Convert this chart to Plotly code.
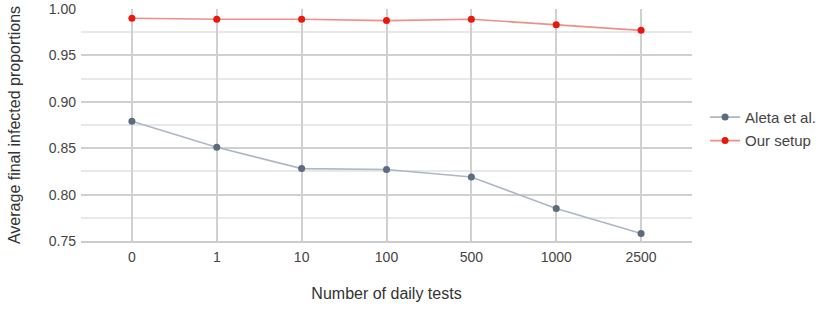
import plotly.graph_objects as go

categories = ["0", "1", "10", "100", "500", "1000", "2500"]
aleta = [0.879, 0.851, 0.828, 0.827, 0.819, 0.785, 0.758]
our_setup = [0.990, 0.989, 0.989, 0.9875, 0.989, 0.983, 0.977]
y_ticks = [0.75, 0.80, 0.85, 0.90, 0.95, 1.00]
y_tick_labels = ["0.75", "0.80", "0.85", "0.90", "0.95", "1.00"]

font_family = "Liberation Sans, Arial, sans-serif"

fig = go.Figure()
fig.add_trace(go.Scatter(
    x=categories, y=aleta, name="Aleta et al.", mode="lines+markers",
    legendgroup="a",
    line=dict(color="#adb7c3", width=1.6),
    marker=dict(color="#5c6b7e", size=7),
))
fig.add_trace(go.Scatter(
    x=categories, y=our_setup, name="Our setup", mode="lines+markers",
    legendgroup="b",
    line=dict(color="#f28e86", width=1.6),
    marker=dict(color="#e8180e", size=7),
))

fig.update_layout(
    width=830, height=312,
    margin=dict(l=81, r=138, t=9, b=71),
    plot_bgcolor="white", paper_bgcolor="white",
    font=dict(family=font_family, size=14, color="#444"),
    showlegend=True,
    legend=dict(xref="container", yref="container", x=0.8495, y=0.587,
                xanchor="left", yanchor="middle",
                itemwidth=30,
                tracegroupgap=1, font=dict(size=15, color="#444")),
)
fig.update_xaxes(
    type="category", range=[-0.6, 6.6], automargin=False,
    showgrid=True, gridcolor="#d0d0d0", gridwidth=1.5,
    showline=True, linecolor="#cccccc", linewidth=2,
    zeroline=False, ticks="", ticklabelstandoff=2,
    tickfont=dict(size=14, color="#444"),
    title=dict(text="Number of daily tests", standoff=24,
               font=dict(size=16, color="#333")),
)
fig.update_yaxes(
    range=[0.75, 1.0], automargin=False,
    tickvals=y_ticks, ticktext=y_tick_labels,
    showgrid=True, gridcolor="#d0d0d0", gridwidth=1.5,
    minor=dict(dtick=0.025, tick0=0.75, showgrid=True, gridcolor="#e8e8e8", gridwidth=1.5),
    zeroline=False, ticks="", ticklabelstandoff=4,
    tickfont=dict(size=14, color="#444"),
    title=dict(text="Average final infected proportions", standoff=24,
               font=dict(size=16, color="#333")),
)

fig.write_html("out.html", config={"displayModeBar": False},
               post_script="document.body.style.margin='0';")
